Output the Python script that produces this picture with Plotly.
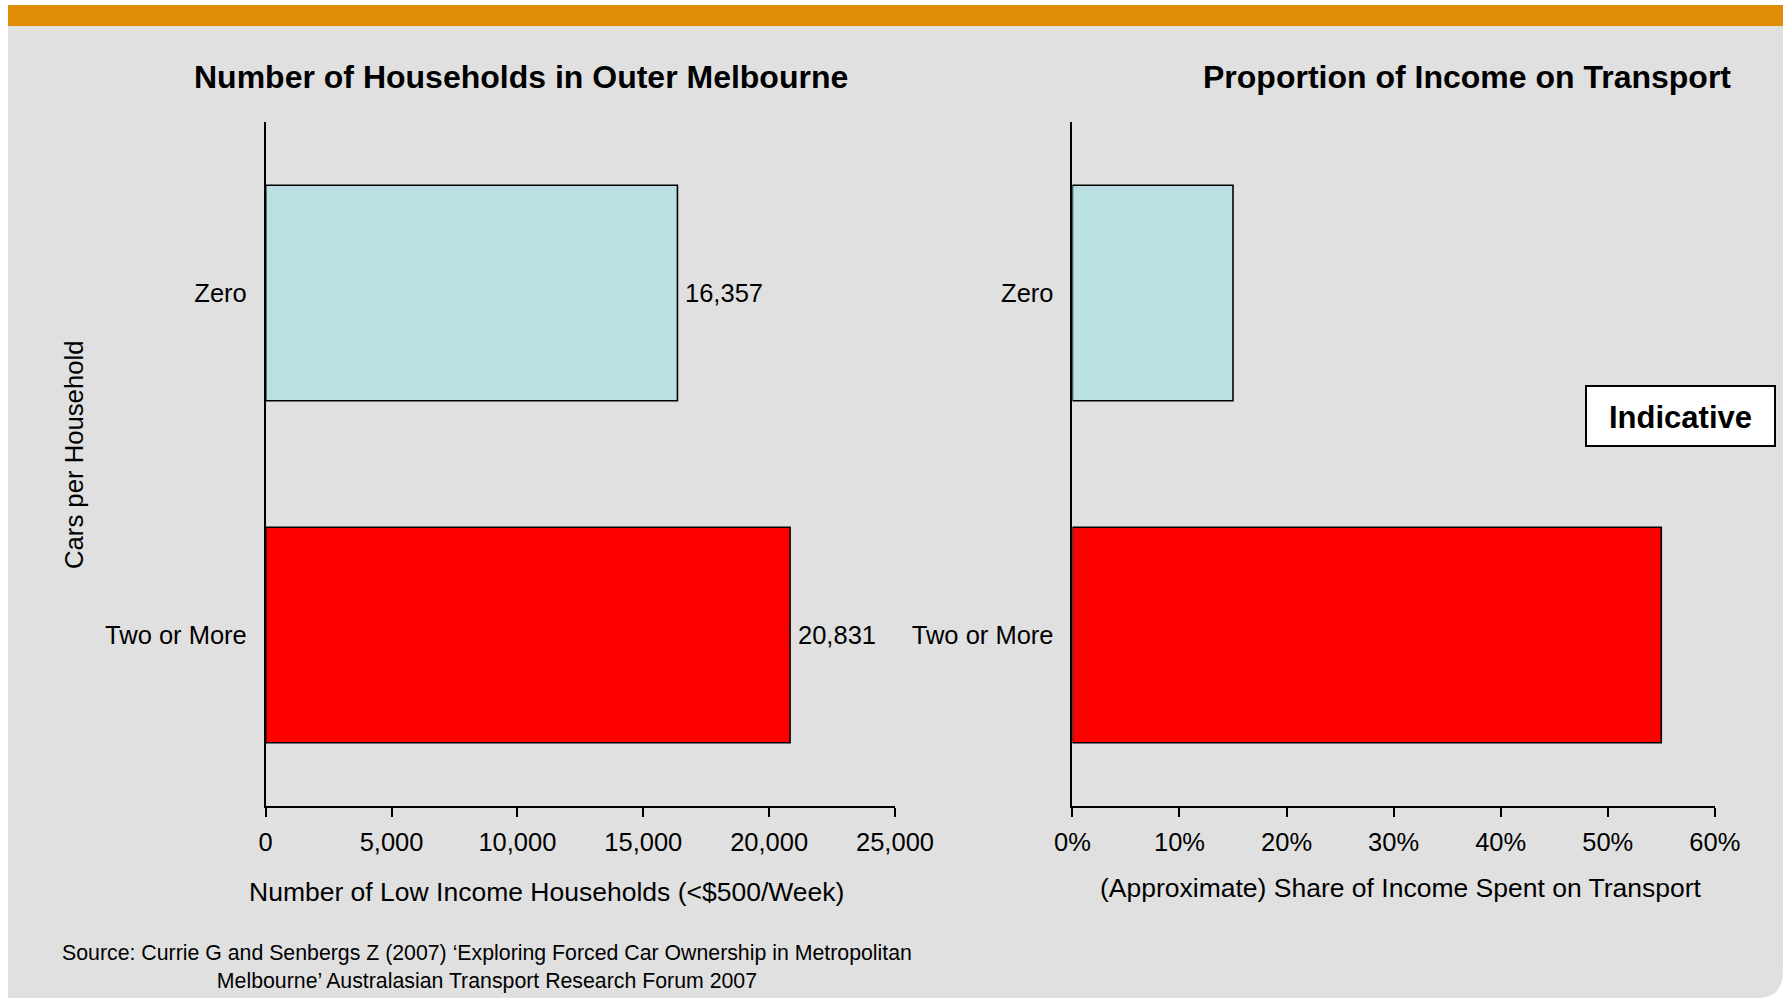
import plotly.graph_objects as go

# ---- data ----
categories = ["Zero", "Two or More"]
households = [16357, 20831]          # low income households in outer Melbourne
income_share = [0.15, 0.55]          # approximate share of income spent on transport
bar_colors = ["#BAE0E3", "#FF0000"]

left_title = "Number of Households in Outer Melbourne"
right_title = "Proportion of Income on Transport"
left_xlabel = "Number of Low Income Households (<$500/Week)"
right_xlabel = "(Approximate) Share of Income Spent on Transport"
ylabel = "Cars per Household"
source_text = ("Source: Currie G and Senbergs Z (2007) \u2018Exploring Forced Car Ownership in Metropolitan<br>"
               "Melbourne\u2019 Australasian Transport Research Forum 2007")

W, H = 1783, 998
FONT = "Liberation Sans, Arial, sans-serif"
BG = "#E0E0E0"


def px(x):
    return x / W


def py(y):
    return 1 - y / H


fig = go.Figure()

fig.add_trace(go.Bar(
    y=categories, x=households, orientation="h",
    marker=dict(color=bar_colors, line=dict(color="#000000", width=1.6)),
    xaxis="x", yaxis="y", showlegend=False, hoverinfo="skip",
))

fig.add_trace(go.Bar(
    y=categories, x=income_share, orientation="h",
    marker=dict(color=bar_colors, line=dict(color="#000000", width=1.6)),
    xaxis="x2", yaxis="y2", showlegend=False, hoverinfo="skip",
))

# value labels at the end of the household bars
for cat, val in zip(categories, households):
    fig.add_annotation(
        x=val, y=cat, xref="x", yref="y", text=f"{val:,}",
        xanchor="left", yanchor="middle", xshift=6, showarrow=False,
        font=dict(family=FONT, size=25.5, color="#000000"),
    )

y_top, y_bot = 122, 806
axis_common = dict(
    showline=True, linecolor="#000000", linewidth=1.6, showgrid=False,
    zeroline=False, automargin=False,
    tickfont=dict(family=FONT, size=25.5, color="#000000"),
)

fig.update_layout(
    width=W, height=H, autosize=False,
    margin=dict(l=0, r=0, t=0, b=0, pad=0),
    paper_bgcolor="#FFFFFF", plot_bgcolor="rgba(0,0,0,0)",
    bargap=0.37,
    font=dict(family=FONT, color="#000000"),
    xaxis=dict(domain=[px(265.7), px(895)], range=[0, 25000], dtick=5000,
               tickformat=",", ticks="outside", ticklen=9, tickwidth=1.6,
               tickcolor="#000000", ticklabelstandoff=4, anchor="y", **axis_common),
    yaxis=dict(domain=[py(y_bot), py(y_top)], categoryorder="array",
               categoryarray=categories[::-1], ticks="", ticklabelstandoff=12,
               anchor="x", **axis_common),
    xaxis2=dict(domain=[px(1072.4), px(1714.8)], range=[0, 0.6], dtick=0.1,
                tickformat=".0%", ticks="outside", ticklen=9, tickwidth=1.6,
                tickcolor="#000000", ticklabelstandoff=4, anchor="y2", **axis_common),
    yaxis2=dict(domain=[py(y_bot), py(y_top)], categoryorder="array",
                categoryarray=categories[::-1], ticks="", ticklabelstandoff=12,
                anchor="x2", **axis_common),
)

# background panel with rounded lower-right corner, and the orange header strip
panel = (f"M {px(8)},{py(26)} L {px(1783)},{py(26)} L {px(1783)},{py(972)} "
         f"Q {px(1783)},{py(998)} {px(1756)},{py(998)} L {px(8)},{py(998)} Z")
fig.add_shape(type="path", path=panel, xref="paper", yref="paper",
              fillcolor=BG, line=dict(width=0), layer="below")
fig.add_shape(type="rect", xref="paper", yref="paper",
              x0=px(8), x1=px(1783), y0=py(26), y1=py(5),
              fillcolor="#E08C06", line=dict(width=0), layer="below")

# "Indicative" box
fig.add_shape(type="rect", xref="paper", yref="paper",
              x0=px(1586), x1=px(1775), y0=py(446), y1=py(386),
              fillcolor="#FFFFFF", line=dict(color="#000000", width=2))


def label(text, x, y, size, bold=False, angle=0, align="center"):
    fig.add_annotation(
        text=f"<b>{text}</b>" if bold else text,
        x=px(x), y=py(y), xref="paper", yref="paper",
        xanchor="center", yanchor="middle", showarrow=False,
        textangle=angle, align=align,
        font=dict(family=FONT, size=size, color="#000000"),
    )


label(left_title, 521, 77, 32, bold=True)
label(right_title, 1467, 77, 32, bold=True)
label(left_xlabel, 546, 892, 26.5)
label(right_xlabel, 1401, 888, 26.5)
label(ylabel, 74, 455, 25.7, angle=-90)
label("Indicative", 1680.5, 417, 31, bold=True)
label(source_text, 487, 967, 21.3)

# page without body margin or scrollbars so the figure sits flush in the window
fig.write_html(
    "out.html",
    post_script="document.body.style.margin='0';document.body.style.overflow='hidden';"
                "document.documentElement.style.overflow='hidden';",
)
